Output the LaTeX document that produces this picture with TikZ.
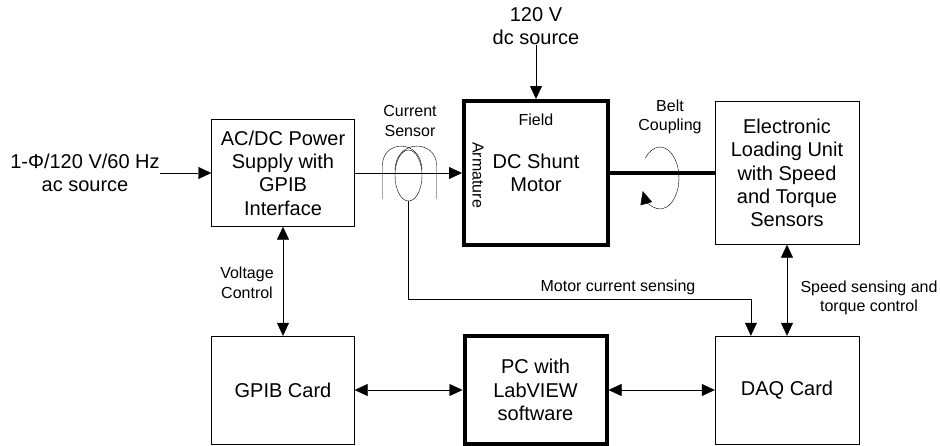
\documentclass[tikz,border=0pt]{standalone}
\usepackage{fontspec}
\setmainfont{Liberation Sans}
\usetikzlibrary{arrows.meta,calc,shapes.geometric}
\tikzset{>={Triangle[length=13pt,width=12pt]},line width=1pt,
  bigtxt/.style={font=\fontsize{20}{23.3}\selectfont,align=center,inner sep=0pt},
  smalltxt/.style={font=\fontsize{16}{19.5}\selectfont,align=center,inner sep=0pt},
  block/.style={draw,bigtxt,minimum width=143pt,minimum height=107pt},
  heavyblock/.style={block,line width=4pt},
  link/.style={->},
  bilink/.style={<->},
  shaft/.style={line width=4pt}}

\begin{document}
\begin{tikzpicture}[x=1pt,y=-1pt]
\useasboundingbox (0,0) rectangle (940,445);

% blocks
\node[block] (psu) at (283,173) {AC/DC Power\\Supply with\\GPIB\\Interface};
\node[heavyblock,minimum width=144pt,minimum height=144pt] (motor) at (536,173) {DC Shunt\\Motor};
\node[block,minimum width=144pt,minimum height=143pt] (elu) at (787,173) {Electronic\\Loading Unit\\with Speed\\and Torque\\Sensors};
\node[block,minimum height=108pt] (gpib) at (283,390) {GPIB Card};
\node[heavyblock,minimum width=142pt,minimum height=108pt] (pc) at (535.5,390) {PC with\\LabVIEW\\software};
\node[block,minimum width=144pt,minimum height=108pt] (daq) at (787,390) {DAQ Card};

% sources and labels
\node[bigtxt] (acsrc) at (85,173) {1-Φ/120 V/60 Hz\\ac source};
\node[bigtxt] (dcsrc) at (536,26) {120 V\\dc source};
\node[smalltxt] (fieldlbl) at (536,120) {Field};
\node[smalltxt,rotate=-90] (armlbl) at (478,175) {Armature};
\node[smalltxt] (senslbl) at (410,121) {Current\\Sensor};
\node[smalltxt] (beltlbl) at (670,117) {Belt\\Coupling};
\node[smalltxt] (voltlbl) at (247,283) {Voltage\\Control};
\node[smalltxt] (speedlbl) at (869,298) {Speed sensing and\\torque control};
\node[smalltxt] (mcslbl) at (618,287) {Motor current sensing};

% current sensor
\node[draw,ellipse,minimum width=27pt,minimum height=51pt,inner sep=0pt] (sensor) at (408.5,175.5) {};
\draw (382.5,199) -- (382.5,165) .. controls (382.5,140) and (421,138) .. (422,170);
\draw (436.5,199) -- (436.5,165) .. controls (436.5,140) and (396,138) .. (395,170);

% connectors
\draw[link] (acsrc.east) -- (psu.west);
\draw[link] (psu.east) -- (motor.west);
\draw[link] (dcsrc.south) -- (motor.north);
\draw[shaft] (motor.east) -- (elu.west);
\draw[bilink] (psu.south) -- (gpib.north);
\draw[bilink] (elu.south) -- (daq.north);
\draw[bilink] (gpib.east) -- (pc.west);
\draw[bilink] (pc.east) -- (daq.west);
\coordinate (bend) at (sensor.south |- 0,299.5);
\coordinate (daqtap) at ($(daq.north west)!.25!(daq.north east)$);
\draw[link] (sensor.south) -- (bend) -| (daqtap);

% belt coupling
\draw[link] (645.4,158.1) arc[start angle=-140,end angle=155,x radius=19,y radius=31];
\end{tikzpicture}
\end{document}
